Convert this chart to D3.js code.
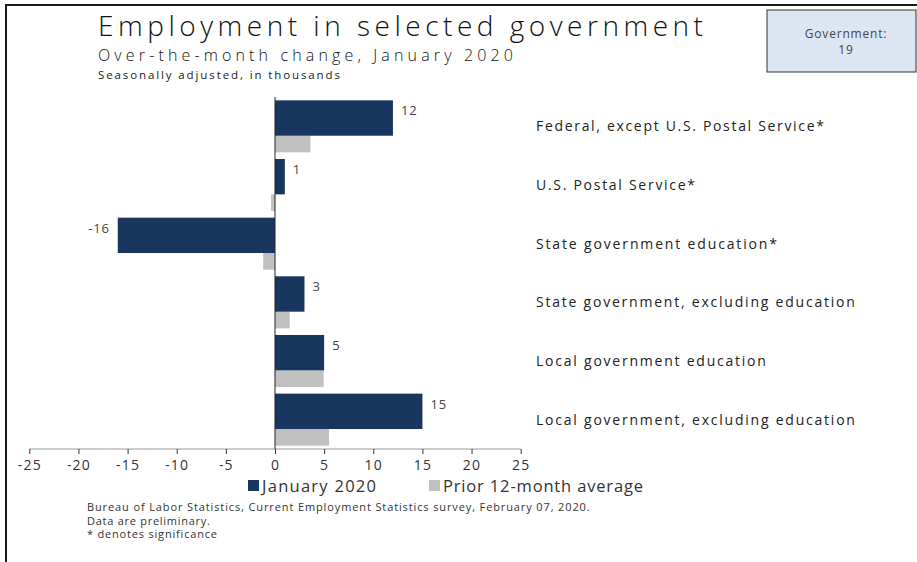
<!DOCTYPE html>
<html><head><meta charset="utf-8">
<script src="https://cdn.jsdelivr.net/npm/d3@7/dist/d3.min.js"></script>
<style>body{margin:0;background:#fff}svg{display:block}text{font-family:"Open Sans","DejaVu Sans",sans-serif}</style>
</head><body><svg id="c" width="917" height="562"></svg>
<script>
const categories = ["Federal, except U.S. Postal Service*","U.S. Postal Service*","State government education*","State government, excluding education","Local government education","Local government, excluding education"];
const january2020 = [12, 1, -16, 3, 5, 15];
const prior12Avg = [3.6, -0.4, -1.2, 1.5, 4.95, 5.5];
const seriesNames = ["January 2020", "Prior 12-month average"];
const tickValues = [-25,-20,-15,-10,-5,0,5,10,15,20,25];
const titleText = "Employment in selected government";
const subtitleText = "Over-the-month change, January 2020";
const noteText = "Seasonally adjusted, in thousands";
const boxLines = ["Government:", "19"];
const footerLines = ["Bureau of Labor Statistics, Current Employment Statistics survey, February 07, 2020.","Data are preliminary.","* denotes significance"];

const navy = "#19365e", grey = "#c0c0c0";
const svg = d3.select("#c");
const fmt = v => String(v); // plain hyphen-minus like the reference

function fit(sel, w){
  sel.each(function(){
    const n = this.getNumberOfChars();
    const L = this.getComputedTextLength();
    if(n>1) d3.select(this).attr("letter-spacing", ((w-L)/(n-1)).toFixed(2));
  });
  return sel;
}

// frame
svg.append("rect").attr("x",6).attr("y",5).attr("width",1000).attr("height",700)
  .attr("fill","none").attr("stroke","#1a1a1a").attr("stroke-width",2);

// titles
fit(svg.append("text").attr("x",98).attr("y",36).attr("font-size",28).attr("font-weight",300)
  .attr("font-family","Lato,'Liberation Sans',sans-serif").attr("fill","#111").text(titleText),605);
fit(svg.append("text").attr("x",98).attr("y",61).attr("font-size",16).attr("font-weight",300)
  .attr("font-family","Lato,'Liberation Sans',sans-serif").attr("fill","#111").text(subtitleText),415);
fit(svg.append("text").attr("x",98).attr("y",79).attr("font-size",11.5).attr("fill","#222").text(noteText),242);

// info box
svg.append("rect").attr("x",767).attr("y",10).attr("width",149).attr("height",62)
  .attr("fill","#dce6f2").attr("stroke","#333").attr("stroke-width",1);
boxLines.forEach((t,i)=>{
  svg.append("text").attr("x",846).attr("y",38+i*16).attr("text-anchor","middle")
    .attr("font-family","'Liberation Sans',Arial,sans-serif")
    .attr("font-size",12).attr("fill","#444").attr("letter-spacing",0.8).text(t);
});

// scales
const x = d3.scaleLinear().domain([-25,25]).range([29.3,520.7]);
const y = d3.scaleBand().domain(categories).range([97,449]).paddingInner(0.113).paddingOuter(0.057);
const bw = y.bandwidth(), hN = bw*0.68, hG = bw-hN;

const rows = categories.map((c,i)=>({c, a:january2020[i], b:prior12Avg[i]}));

// grey bars
svg.append("g").selectAll("rect").data(rows).join("rect")
  .attr("x",d=>x(Math.min(0,d.b))).attr("width",d=>Math.abs(x(d.b)-x(0)))
  .attr("y",d=>y(d.c)+hN).attr("height",hG).attr("fill",grey);
// navy bars
svg.append("g").selectAll("rect").data(rows).join("rect")
  .attr("x",d=>x(Math.min(0,d.a))).attr("width",d=>Math.abs(x(d.a)-x(0)))
  .attr("y",d=>y(d.c)).attr("height",hN).attr("fill",navy);

// value labels
svg.append("g").selectAll("text").data(rows).join("text")
  .attr("x",d=>d.a>=0? x(d.a)+8 : x(d.a)-8)
  .attr("text-anchor",d=>d.a>=0?"start":"end")
  .attr("y",d=>y(d.c)+15).attr("font-size",13).attr("fill","#444").attr("letter-spacing",0.8)
  .text(d=>fmt(d.a));

// category labels
const catTargets = [288, 159, 241, 319, 230, 319];
svg.append("g").selectAll("text").data(rows).join("text")
  .attr("x",536).attr("y",d=>y(d.c)+bw/2+5).attr("font-size",14).attr("fill","#222")
  .text(d=>d.c).each(function(d,i){ fit(d3.select(this), catTargets[i]); });

// x axis
const ax = svg.append("g").attr("transform","translate(0,449)")
  .call(d3.axisBottom(x).tickValues(tickValues).tickSize(5).tickPadding(6).tickFormat(fmt));
ax.select(".domain").attr("stroke","#999").attr("d",`M${x(-25)},0H${x(25)}`);
ax.selectAll(".tick line").attr("stroke","#333");
ax.selectAll(".tick text").attr("font-size",14).attr("fill","#333").attr("letter-spacing",1.2)
  .attr("font-family","'Open Sans','DejaVu Sans',sans-serif");

// zero line
svg.append("line").attr("x1",x(0)).attr("x2",x(0)).attr("y1",97).attr("y2",449)
  .attr("stroke","#222").attr("stroke-width",1);

// legend
const lg = [{n:seriesNames[0],c:navy,x:248,w:114},{n:seriesNames[1],c:grey,x:429,w:200}];
lg.forEach(l=>{
  svg.append("rect").attr("x",l.x).attr("y",480).attr("width",11).attr("height",11).attr("fill",l.c);
  fit(svg.append("text").attr("x",l.x+14).attr("y",492).attr("font-size",16.5).attr("fill","#333").text(l.n), l.w);
});

// footer
const fw = [503,123,130];
footerLines.forEach((t,i)=>{
  fit(svg.append("text").attr("x",87).attr("y",511+i*13.5).attr("font-size",11).attr("fill","#333").text(t), fw[i]);
});
</script></body></html>
